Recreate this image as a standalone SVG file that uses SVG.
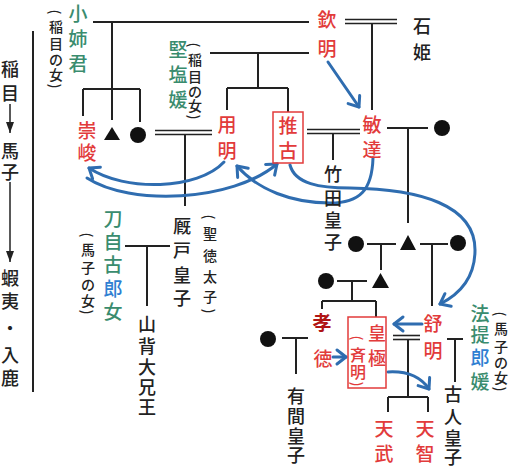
<svg xmlns="http://www.w3.org/2000/svg" width="513" height="468" viewBox="0 0 513 468">
<defs>
<style>
text{font-family:"Noto Sans CJK JP","Noto Sans CJK SC",sans-serif;text-anchor:middle;dominant-baseline:central;font-weight:500}
.k{fill:#222;font-size:18px}
.r{fill:#e23b3b;font-size:19px}
.g{fill:#3a8c6e;font-size:19px}
.b{fill:#2f7fd2;font-size:19px}
.s{fill:#222;font-size:14px}
.p{fill:#222;font-size:14px}
.ln{stroke:#222;stroke-width:2;fill:none}
.dl{stroke:#222;stroke-width:1.6;fill:none}
.ar{stroke:#2f6db0;stroke-width:3;fill:none;stroke-linecap:round}
.box{stroke:#e23b3b;stroke-width:1.5;fill:none}
.dot{fill:#111}
</style>
<marker id="ah" markerUnits="userSpaceOnUse" markerWidth="24" markerHeight="24" viewBox="-12 -12 24 24" refX="0" refY="0" orient="auto"><path d="M-9,-7 L0,0 L-9,7" fill="none" stroke="#2f6db0" stroke-width="3" stroke-linecap="round" stroke-linejoin="round"/></marker>
<marker id="dh" markerUnits="userSpaceOnUse" markerWidth="12" markerHeight="16" viewBox="-12 -8 12 16" refX="0" refY="0" orient="auto"><path d="M-11,-4 L0,0 L-11,4 Z" fill="#222"/></marker>
</defs>
<rect width="513" height="468" fill="#fff"/>

<g id="lineage">
<text class="k" x="10" y="68">稲</text><text class="k" x="10" y="92">目</text>
<text class="k" x="10" y="150">馬</text><text class="k" x="10" y="171">子</text>
<text class="k" x="10" y="277">蝦</text><text class="k" x="10" y="300">夷</text>
<text class="k" x="10" y="327">・</text>
<text class="k" x="10" y="354">入</text><text class="k" x="10" y="377">鹿</text>
<line class="ln" x1="33" y1="31" x2="33" y2="392"/>
<line stroke="#222" stroke-width="1.5" x1="10" y1="104" x2="10" y2="133" marker-end="url(#dh)"/>
<line stroke="#222" stroke-width="1.5" x1="10" y1="182" x2="10" y2="262" marker-end="url(#dh)"/>
</g>

<g id="connectors">
<line class="ln" x1="93" y1="22" x2="309" y2="22"/>
<line class="ln" x1="112" y1="22" x2="112" y2="120"/>
<line class="ln" x1="83" y1="89" x2="140" y2="89"/>
<line class="ln" x1="83" y1="89" x2="83" y2="116"/>
<line class="ln" x1="140" y1="89" x2="140" y2="122"/>
<line class="ln" x1="210" y1="53" x2="309" y2="53"/>
<line class="ln" x1="258" y1="53" x2="258" y2="88"/>
<line class="ln" x1="227" y1="88" x2="288" y2="88"/>
<line class="ln" x1="227" y1="88" x2="227" y2="110"/>
<line class="ln" x1="288" y1="88" x2="288" y2="112"/>
<line class="dl" x1="345" y1="19.5" x2="397" y2="19.5"/>
<line class="dl" x1="345" y1="23.5" x2="397" y2="23.5"/>
<line class="ln" x1="372" y1="23" x2="372" y2="110"/>
<line class="dl" x1="155" y1="130.5" x2="212" y2="130.5"/>
<line class="dl" x1="155" y1="134.5" x2="212" y2="134.5"/>
<line class="ln" x1="185" y1="134" x2="185" y2="206"/>
<line class="dl" x1="307" y1="129.5" x2="360" y2="129.5"/>
<line class="dl" x1="307" y1="133.5" x2="360" y2="133.5"/>
<line class="ln" x1="333" y1="133" x2="333" y2="160"/>
<line class="ln" x1="387" y1="128" x2="428" y2="128"/>
<line class="ln" x1="408" y1="128" x2="408" y2="223"/>
<line class="ln" x1="125" y1="246" x2="170" y2="246"/>
<line class="ln" x1="147" y1="246" x2="147" y2="306"/>
<line class="ln" x1="367" y1="244" x2="396" y2="244"/>
<line class="ln" x1="381" y1="244" x2="381" y2="270"/>
<line class="ln" x1="420" y1="244" x2="448" y2="244"/>
<line class="ln" x1="432" y1="244" x2="432" y2="306"/>
<line class="ln" x1="337" y1="281" x2="367" y2="281"/>
<line class="ln" x1="352" y1="281" x2="352" y2="301"/>
<line class="ln" x1="322" y1="301" x2="376" y2="301"/>
<line class="ln" x1="322" y1="301" x2="322" y2="309"/>
<line class="ln" x1="376" y1="301" x2="376" y2="317"/>
<line class="ln" x1="282" y1="338" x2="308" y2="338"/>
<line class="ln" x1="296" y1="338" x2="296" y2="374"/>
<line class="dl" x1="393" y1="335.5" x2="420" y2="335.5"/>
<line class="dl" x1="393" y1="339.5" x2="420" y2="339.5"/>
<line class="ln" x1="408" y1="339" x2="408" y2="397"/>
<line class="ln" x1="388" y1="397" x2="428" y2="397"/>
<line class="ln" x1="388" y1="397" x2="388" y2="412"/>
<line class="ln" x1="428" y1="397" x2="428" y2="412"/>
<line class="ln" x1="447" y1="339" x2="463" y2="339"/>
<line class="ln" x1="455" y1="339" x2="455" y2="382"/>
<path class="ar" d="M328,62 L359,107" marker-end="url(#ah)"/>
<path class="ar" d="M224,162 C198,190 125,192 89,168" marker-end="url(#ah)"/>
<path class="ar" d="M87,178 C130,206 232,202 277,164" marker-end="url(#ah)"/>
<path class="ar" d="M373,158 C372,190 360,203 330,203 C292,203 258,190 237,166" marker-end="url(#ah)"/>
<path class="ar" d="M290,165 C295,184 320,188 350,188 C420,189 475,205 475,250 C475,280 458,295 440,304" marker-end="url(#ah)"/>
<path class="ar" d="M422,324 L394,324" marker-end="url(#ah)"/>
<path class="ar" d="M388,372 C405,371 420,376 429,389" marker-end="url(#ah)"/>
<path class="ar" d="M333,357 L346,357" marker-end="url(#ah)"/>
</g>

<g id="n-koanegimi"><text class="g" x="78" y="12">小</text><text class="g" x="78" y="37">姉</text><text class="g" x="78" y="62">君</text>
<text class="p" x="56" y="12" transform="rotate(90 56 12)">(</text><text class="s" x="56" y="26">稲</text><text class="s" x="56" y="43">目</text><text class="s" x="56" y="59">の</text><text class="s" x="56" y="74">女</text><text class="p" x="56" y="86" transform="rotate(90 56 86)">)</text></g>
<g id="n-kitashihime"><text class="g" x="178" y="48">堅</text><text class="g" x="178" y="73">塩</text><text class="g" x="178" y="98">媛</text>
<text class="p" x="195" y="45" transform="rotate(90 195 45)">(</text><text class="s" x="195" y="59">稲</text><text class="s" x="195" y="76">目</text><text class="s" x="195" y="91">の</text><text class="s" x="195" y="105">女</text><text class="p" x="195" y="117" transform="rotate(90 195 117)">)</text></g>
<g id="n-kinmei"><text class="r" x="327" y="18">欽</text><text class="r" x="327" y="47">明</text></g>
<g id="n-ishihime"><text class="k" x="422" y="25">石</text><text class="k" x="422" y="51">姫</text></g>
<g id="n-sushun"><text class="r" x="87" y="129">崇</text><text class="r" x="87" y="151">峻</text></g>
<g id="n-tri1"><polygon class="dot" points="104,140 120,140 112,127"/></g>
<g id="n-circ1"><circle class="dot" cx="138" cy="135" r="8"/></g>
<g id="n-yomei"><text class="r" x="227" y="123">用</text><text class="r" x="227" y="149">明</text></g>
<g id="n-suiko"><rect class="box" x="273" y="112" width="30" height="51"/><text class="r" x="288" y="124">推</text><text class="r" x="288" y="149">古</text></g>
<g id="n-bidatsu"><text class="r" x="372" y="123">敏</text><text class="r" x="372" y="148">達</text></g>
<g id="n-circ2"><circle class="dot" cx="442" cy="128" r="8"/></g>
<g id="n-takeda"><text class="k" x="333" y="173">竹</text><text class="k" x="333" y="197">田</text><text class="k" x="333" y="219">皇</text><text class="k" x="333" y="241">子</text></g>
<g id="n-umayado"><text class="k" x="182" y="225">厩</text><text class="k" x="182" y="249">戸</text><text class="k" x="182" y="274">皇</text><text class="k" x="182" y="297">子</text>
<text class="p" x="210" y="217" transform="rotate(90 210 217)">(</text><text class="s" x="210" y="233">聖</text><text class="s" x="210" y="255">徳</text><text class="s" x="210" y="276">太</text><text class="s" x="210" y="296">子</text><text class="p" x="210" y="311" transform="rotate(90 210 311)">)</text></g>
<g id="n-tojiko"><text class="g" x="113" y="217">刀</text><text class="g" x="113" y="240">自</text><text class="g" x="113" y="263">古</text><text class="b" x="113" y="287">郎</text><text class="g" x="113" y="310">女</text>
<text class="p" x="88" y="235" transform="rotate(90 88 235)">(</text><text class="s" x="88" y="249">馬</text><text class="s" x="88" y="267">子</text><text class="s" x="88" y="284">の</text><text class="s" x="88" y="300">女</text><text class="p" x="88" y="312" transform="rotate(90 88 312)">)</text></g>
<g id="n-yamashiro"><text class="k" x="147" y="323">山</text><text class="k" x="147" y="345">背</text><text class="k" x="147" y="366">大</text><text class="k" x="147" y="386">兄</text><text class="k" x="147" y="406">王</text></g>
<g id="n-circ3"><circle class="dot" cx="356" cy="244" r="8"/></g>
<g id="n-tri2"><polygon class="dot" points="400,250 416,250 408,235"/></g>
<g id="n-circ4"><circle class="dot" cx="458" cy="243" r="8"/></g>
<g id="n-circ5"><circle class="dot" cx="326" cy="281" r="8"/></g>
<g id="n-tri3"><polygon class="dot" points="372,288 389,288 380.5,273"/></g>
<g id="n-kotoku"><text x="322" y="321" style="fill:#b01515;font-size:19px;font-weight:bold">孝</text><text class="r" x="323" y="357">徳</text></g>
<g id="n-circ6"><circle class="dot" cx="268" cy="339" r="8"/></g>
<g id="n-arima"><text class="k" x="296" y="395">有</text><text class="k" x="296" y="415">間</text><text class="k" x="296" y="435">皇</text><text class="k" x="296" y="454">子</text></g>
<g id="n-kogyoku"><rect class="box" x="348" y="317" width="38" height="71"/><text class="r" x="377" y="332" style="font-size:18px">皇</text><text class="r" x="377" y="357" style="font-size:18px">極</text>
<text class="r" x="358" y="338" style="font-size:14px" transform="rotate(90 358 338)">(</text><text class="r" x="358" y="354" style="font-size:16px">斉</text><text class="r" x="358" y="371" style="font-size:16px">明</text><text class="r" x="358" y="384" style="font-size:14px" transform="rotate(90 358 384)">)</text></g>
<g id="n-jomei"><text class="r" x="433" y="322">舒</text><text class="r" x="433" y="349">明</text></g>
<g id="n-hote"><text class="g" x="480" y="312">法</text><text class="g" x="480" y="333">提</text><text class="b" x="480" y="356">郎</text><text class="g" x="480" y="380">媛</text>
<text class="p" x="501" y="314" transform="rotate(90 501 314)">(</text><text class="s" x="501" y="328">馬</text><text class="s" x="501" y="346">子</text><text class="s" x="501" y="362">の</text><text class="s" x="501" y="377">女</text><text class="p" x="501" y="389" transform="rotate(90 501 389)">)</text></g>
<g id="n-furuhito"><text class="k" x="453" y="393">古</text><text class="k" x="453" y="416">人</text><text class="k" x="453" y="437">皇</text><text class="k" x="453" y="456">子</text></g>
<g id="n-tenmu"><text class="r" x="384" y="427">天</text><text class="r" x="384" y="452">武</text></g>
<g id="n-tenji"><text class="r" x="425" y="427">天</text><text class="r" x="425" y="452">智</text></g>
</svg>
